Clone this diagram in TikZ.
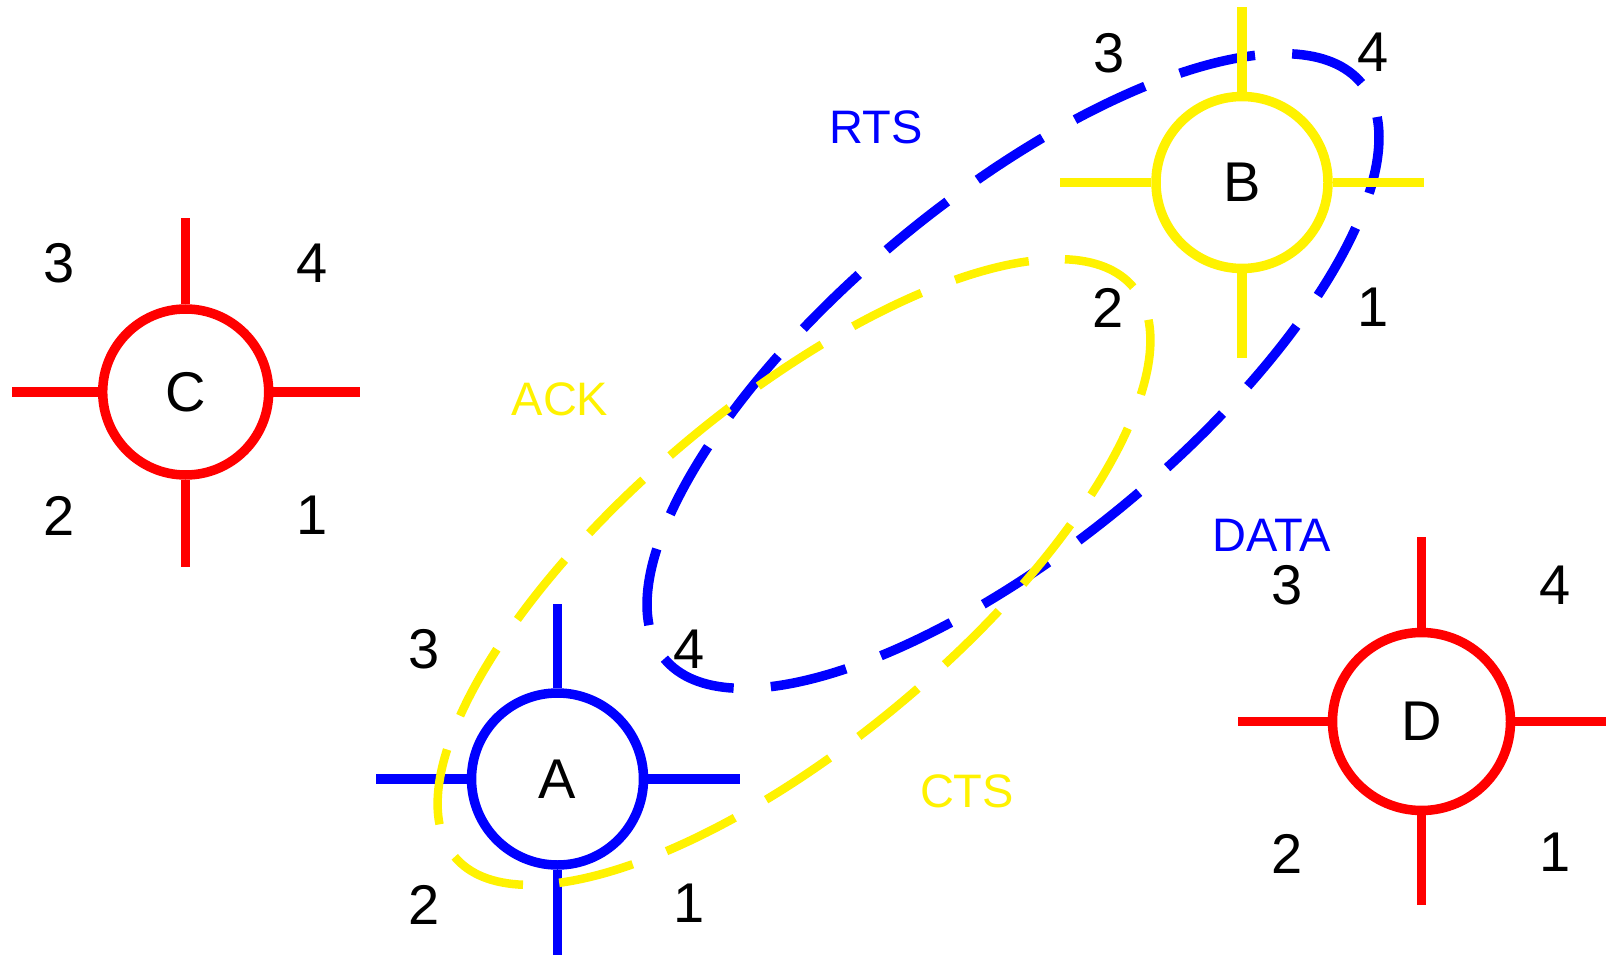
\documentclass[tikz,border=0pt]{standalone}
\usepackage{fontspec}
\setmainfont{Liberation Sans}
\begin{document}
\begin{tikzpicture}[x=1pt,y=-1pt,
  hub/.style={circle,draw,line width=9.5pt,fill=white,inner sep=0pt,font=\fontsize{56}{60}\selectfont},
  spoke/.style={line width=9.5pt},
  num/.style={inner sep=0pt,font=\fontsize{56}{60}\selectfont},
  lbl/.style={inner sep=0pt,font=\fontsize{47}{50}\selectfont},
  bluelink/.style={blue,line width=9.5pt,dash pattern=on 77.5pt off 37.2pt,dash phase=77.5pt},
  yellowlink/.style={yellow,line width=8.5pt,dash pattern=on 76pt off 36.24pt,dash phase=76pt}]
\useasboundingbox (0,0) rectangle (1612,955);

% RTS / DATA exchange (blue)
\draw[bluelink,rotate around={39.5:(1013,371)}] (1013,371) ellipse (452 and 174);

% node A
\node[hub,draw=blue,minimum size=172pt] (A) at (557.5,779) {A};
\coordinate (Aw) at (375.5,779);
\coordinate (Ae) at (739.5,779);
\coordinate (An) at (557.5,604);
\coordinate (As) at (557.5,962);
\draw[spoke,blue] (A.west) -- (Aw);
\draw[spoke,blue] (A.east) -- (Ae);
\draw[spoke,blue] (A.north) -- (An);
\draw[spoke,blue] (A.south) -- (As);

% ACK / CTS exchange (yellow)
\draw[yellowlink,rotate around={40:(794,572)}] (794,572) ellipse (443 and 169);

% node B
\node[hub,draw=yellow,minimum size=172pt] (B) at (1242,182.5) {B};
\coordinate (Bw) at (1060,182.5);
\coordinate (Be) at (1424,182.5);
\coordinate (Bn) at (1242,7);
\coordinate (Bs) at (1242,358);
\draw[spoke,yellow] (B.west) -- (Bw);
\draw[spoke,yellow] (B.east) -- (Be);
\draw[spoke,yellow] (B.north) -- (Bn);
\draw[spoke,yellow] (B.south) -- (Bs);

% node C
\node[hub,draw=red,minimum size=166pt] (C) at (185.7,392) {C};
\coordinate (Cw) at (12,392);
\coordinate (Ce) at (360,392);
\coordinate (Cn) at (185.7,218);
\coordinate (Cs) at (185.7,567);
\draw[spoke,red] (C.west) -- (Cw);
\draw[spoke,red] (C.east) -- (Ce);
\draw[spoke,red] (C.north) -- (Cn);
\draw[spoke,red] (C.south) -- (Cs);

% node D
\node[hub,draw=red,minimum size=178pt] (D) at (1421.5,721.5) {D};
\coordinate (Dw) at (1238,721.5);
\coordinate (De) at (1606,721.5);
\coordinate (Dn) at (1421.5,537);
\coordinate (Ds) at (1421.5,905);
\draw[spoke,red] (D.west) -- (Dw);
\draw[spoke,red] (D.east) -- (De);
\draw[spoke,red] (D.north) -- (Dn);
\draw[spoke,red] (D.south) -- (Ds);

% quadrant numbers
\node[num] (C3) at (59,263) {3};
\node[num] (C4) at (312,263) {4};
\node[num] (C2) at (59,516) {2};
\node[num] (C1) at (312,515) {1};

\node[num] (A3) at (424.5,649) {3};
\node[num] (A4) at (689,649) {4};
\node[num] (A2) at (424.5,905) {2};
\node[num] (A1) at (689,903) {1};

\node[num] (B3) at (1109,53) {3};
\node[num] (B4) at (1373,52) {4};
\node[num] (B2) at (1108,308) {2};
\node[num] (B1) at (1373,307) {1};

\node[num] (D3) at (1287.5,585) {3};
\node[num] (D4) at (1555,585) {4};
\node[num] (D2) at (1287.5,853.5) {2};
\node[num] (D1) at (1555,852) {1};

% message labels
\node[lbl,text=blue] (rts) at (876,127) {RTS};
\node[lbl,text=blue] (data) at (1272,535) {DATA};
\node[lbl,text=yellow] (ack) at (560,399) {ACK};
\node[lbl,text=yellow] (cts) at (967,791) {CTS};
\end{tikzpicture}
\end{document}
